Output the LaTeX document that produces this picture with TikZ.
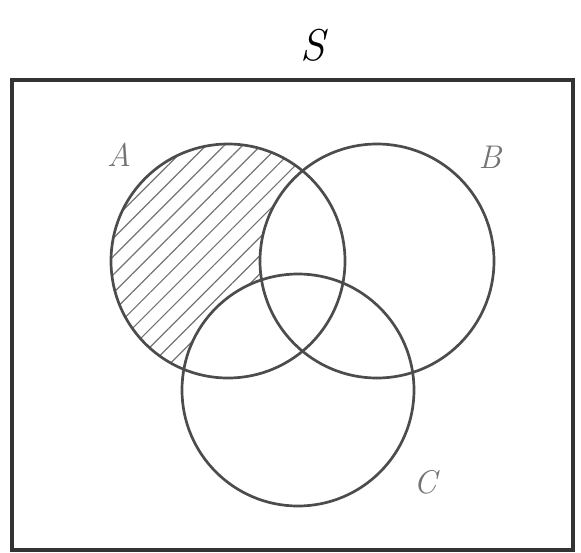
\documentclass[tikz,border=0pt]{standalone}
\usepackage{tikz}
\usetikzlibrary{patterns.meta}

\begin{document}
\begin{tikzpicture}[x=0.03cm, y=-0.03cm]
    \useasboundingbox (0,0) rectangle (581,552);
    \tikzset{conjunto/.style={draw=black!70, line width=2.3pt},
             etiqueta/.style={black!55, font=\fontsize{28}{32}\selectfont\itshape}}

    % Región rayada: A sin B ni C
    \begin{scope}
        \clip (228,261) circle (117);
        \fill[pattern={Lines[angle=45, distance=11pt, line width=1pt]}, pattern color=black!55] (100,130) rectangle (360,390);
        \fill[white] (377,261) circle (117);
        \fill[white] (298,390) circle (116);
    \end{scope}

    % Universo
    \draw[black!80, line width=3.2pt] (12,80) rectangle (573,550);
    \node[font=\fontsize{38}{42}\selectfont\itshape] at (313,45) {S};

    % Círculos
    \draw[conjunto] (228,261) circle (117);
    \draw[conjunto] (377,261) circle (117);
    \draw[conjunto] (298,390) circle (116);

    % Etiquetas
    \node[etiqueta] at (119,155) {A};
    \node[etiqueta] at (490,157) {B};
    \node[etiqueta] at (425,482) {C};
\end{tikzpicture}
\end{document}
